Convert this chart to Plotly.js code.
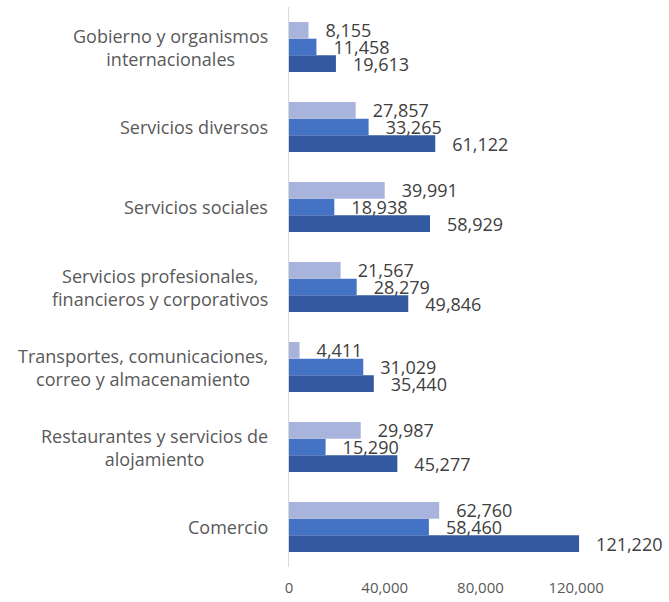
<!DOCTYPE html>
<html>
<head>
<meta charset="utf-8">
<script src="https://cdn.plot.ly/plotly-3.0.1.min.js"></script>
<style>
  html, body { margin: 0; padding: 0; background: #fff; }
  #plot { width: 669px; height: 602px; }
</style>
</head>
<body>
<div id="plot"></div>
<script>
// categories, bottom to top as plotly draws them
let categories = [
    "Comercio",
    "Restaurantes y servicios de<br>alojamiento",
    "Transportes, comunicaciones,<br>correo y almacenamiento",
    "Servicios profesionales,<br>financieros y corporativos",
    "Servicios sociales",
    "Servicios diversos",
    "Gobierno y organismos<br>internacionales"
];

// three series (dark = total, medium, light)
let darkValues = [121220, 45277, 35440, 49846, 58929, 61122, 19613];
let mediumValues = [58460, 15290, 31029, 28279, 18938, 33265, 11458];
let lightValues = [62760, 29987, 4411, 21567, 39991, 27857, 8155];

let tickValues = [0, 40000, 80000, 120000];

let labelFont = {family: "Open Sans, sans-serif", size: 18, color: "#404040"};

function makeTrace(values, color) {
    return {
        type: "bar",
        orientation: "h",
        y: categories,
        x: values,
        marker: {color: color},
        text: values.map(v => "\u00a0\u00a0\u00a0" + v.toLocaleString("en-US")),
        textposition: "outside",
        textfont: labelFont,
        constraintext: "none",
        cliponaxis: false,
        hoverinfo: "x+y"
    };
}

let data = [
    makeTrace(darkValues, "#335aa1"),
    makeTrace(mediumValues, "#4472c4"),
    makeTrace(lightValues, "#a9b4dc")
];

// category labels as annotations so both lines are centred
let annotations = categories.map(c => ({
    xref: "paper",
    yref: "y",
    x: 0,
    y: c,
    xanchor: "right",
    xshift: -19,
    align: "center",
    text: c,
    showarrow: false,
    font: {family: "Open Sans, sans-serif", size: 18, color: "#595959"}
}));

let layout = {
    barmode: "group",
    bargap: 0.375,
    bargroupgap: 0,
    showlegend: false,
    plot_bgcolor: "#fff",
    paper_bgcolor: "#fff",
    margin: {l: 289, r: 45, t: 7, b: 35},
    xaxis: {
        range: [0, 140000],
        tickvals: tickValues,
        tickformat: ",",
        showgrid: false,
        zeroline: false,
        showline: false,
        ticks: "",
        ticklabelstandoff: 10,
        tickfont: {family: "Open Sans, sans-serif", size: 15, color: "#595959"}
    },
    yaxis: {
        showticklabels: false,
        showgrid: false,
        zeroline: false,
        showline: true,
        linecolor: "#d9d9d9",
        linewidth: 1,
        ticks: ""
    },
    annotations: annotations
};

Plotly.newPlot("plot", data, layout, {displayModeBar: false});
</script>
</body>
</html>
